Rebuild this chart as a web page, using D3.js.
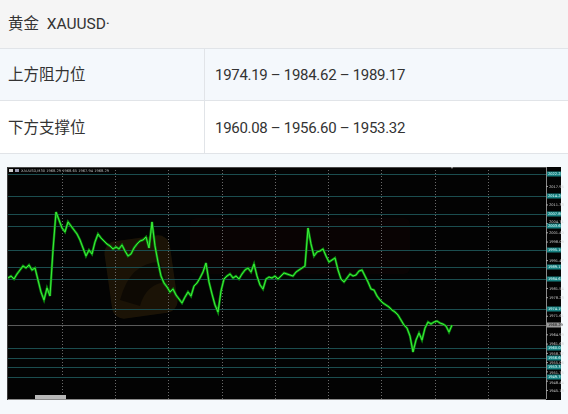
<!DOCTYPE html>
<html>
<head>
<meta charset="utf-8">
<script src="https://cdn.jsdelivr.net/npm/d3@7"></script>
<style>
  html, body { margin: 0; padding: 0; background: #ffffff; }
  svg { display: block; }
</style>
</head>
<body>
<svg id="chart" width="568" height="414"></svg>
<script>
// ---------------- DATA ----------------
const headerText = "黄金  XAUUSD·";
const rowLabels = ["上方阻力位", "下方支撑位"];
const rowValues = ["1974.19 – 1984.62 – 1989.17", "1960.08 – 1956.60 – 1953.32"];

// XAUUSD close prices, one per bar
const closePrices = [
  1985.08, 1985.79, 1984.72, 1986.51, 1987.94, 1989.37, 1988.65, 1989.72, 1987.94, 1988.65,
  1984.37, 1980.08, 1977.22, 1981.51, 1978.65, 1995.08, 2008.65, 2005.79, 2002.94, 2001.51,
  2005.08, 2003.65, 2002.22, 2000.79, 1998.65, 1995.79, 1992.94, 1995.08, 1993.65, 1997.94,
  2000.79, 1999.37, 1998.29, 1997.22, 1996.51, 1995.44, 1996.15, 1995.44, 1996.87, 1994.72,
  1992.94, 1993.65, 1995.79, 1997.22, 1998.29, 1998.65, 1999.72, 1995.79, 2005.08, 1996.51,
  1990.79, 1985.79, 1983.29, 1981.87, 1980.08, 1981.15, 1979.01, 1977.58, 1976.15, 1978.29,
  1980.08, 1978.65, 1982.22, 1983.29, 1985.08, 1987.22, 1990.44, 1983.65, 1979.37, 1975.44,
  1972.94, 1980.44, 1984.72, 1985.79, 1986.51, 1985.08, 1985.79, 1984.72, 1986.51, 1987.94,
  1988.65, 1987.22, 1990.08, 1985.79, 1982.58, 1981.15, 1984.72, 1985.44, 1985.08, 1985.79,
  1984.72, 1985.79, 1986.87, 1986.51, 1986.15, 1985.79, 1987.22, 1987.94, 1988.65, 1989.37,
  2002.94, 1997.22, 1992.94, 1994.37, 1994.72, 1995.44, 1992.94, 1990.79, 1991.51, 1992.22,
  1987.94, 1984.72, 1983.65, 1985.08, 1986.51, 1985.79, 1986.15, 1987.58, 1987.94, 1985.79,
  1983.65, 1981.15, 1980.79, 1978.65, 1977.22, 1976.15, 1975.44, 1974.72, 1973.65, 1972.94,
  1971.87, 1970.08, 1968.29, 1967.22, 1964.37, 1958.65, 1962.94, 1965.44, 1962.94, 1967.22,
  1969.37, 1968.65, 1969.37, 1969.72, 1969.01, 1968.65, 1967.94, 1965.79, 1968.29
];

// horizontal level lines (teal) drawn on the chart
const levelPrices = [2022.25, 2014.20, 2007.80, 2003.65, 1995.10, 1989.17, 1984.62, 1974.19,
                     1960.08, 1956.60, 1953.32, 1949.70];
const bidPrice = 1968.29;

// price axis tick labels
const priceTicks = [2017.95, 2011.33, 2004.71, 2001.40, 1998.09, 1991.47, 1981.54, 1978.23,
                    1971.61, 1964.99, 1961.68, 1958.37, 1955.06, 1951.75, 1948.44, 1945.13];
const priceDomain = [1941.9, 2024.7];

// vertical time grid positions (bar index)
const gridBars = [18, 35.67, 53.33, 71.33, 89, 106.67, 124.33, 142.33, 160];

const chartTitle = "XAUUSD,M30  1968.29 1968.65 1967.94 1968.29";

// ---------------- DRAW ----------------
const svg = d3.select("#chart");
const W = 568, H = 414;
const textColor = "#333333";
const fontStack = "Roboto, 'Noto Sans CJK SC', sans-serif";

// table backgrounds
svg.append("rect").attr("x", 0).attr("y", 0).attr("width", W).attr("height", 48).attr("fill", "#f5f5f5");
svg.append("rect").attr("x", 0).attr("y", 49).attr("width", W).attr("height", 51).attr("fill", "#f4f8fc");
svg.append("rect").attr("x", 0).attr("y", 101).attr("width", W).attr("height", 52).attr("fill", "#ffffff");
svg.append("rect").attr("x", 0).attr("y", 154).attr("width", W).attr("height", H - 154).attr("fill", "#f5f9fc");

// borders
[48.5, 100.5, 153.5].forEach(yy => {
  svg.append("line").attr("x1", 0).attr("x2", W).attr("y1", yy).attr("y2", yy)
    .attr("stroke", "#e1e4e8").attr("stroke-width", 1);
});
svg.append("line").attr("x1", 204.5).attr("x2", 204.5).attr("y1", 49).attr("y2", 153)
  .attr("stroke", "#e1e4e8").attr("stroke-width", 1);

// table texts
svg.append("text").attr("x", 8).attr("y", 24).attr("dominant-baseline", "central")
  .attr("font-family", fontStack).attr("font-size", 15.5).attr("fill", textColor)
  .attr("xml:space", "preserve").style("white-space", "pre").text(headerText);

const rowCenters = [75, 128];
rowLabels.forEach((lab, i) => {
  svg.append("text").attr("x", 8).attr("y", rowCenters[i]).attr("dominant-baseline", "central")
    .attr("font-family", fontStack).attr("font-size", 15.5).attr("fill", textColor).text(lab);
  svg.append("text").attr("x", 215).attr("y", rowCenters[i]).attr("dominant-baseline", "central")
    .attr("font-family", fontStack).attr("font-size", 15).attr("fill", textColor)
    .attr("letter-spacing", -0.3).text(rowValues[i]);
});

// ---- trading chart ----
const cL = 7, cR = 561, cT = 167, cB = 400, pR = 546, pB = 399;
svg.append("rect").attr("x", cL).attr("y", cT).attr("width", cR - cL).attr("height", cB - cT).attr("fill", "#030303");

const x = d3.scaleLinear().domain([0, closePrices.length - 1]).range([8, 452]);
const y = d3.scaleLinear().domain(priceDomain).range([pB, cT]);

// watermark (faint logo)
const wm = svg.append("g").attr("opacity", 0.45);
wm.append("rect").attr("x", 108).attr("y", 238).attr("width", 66).attr("height", 78).attr("rx", 12)
  .attr("fill", "#3a2a0c").attr("transform", "rotate(-8 141 277)");
wm.append("path").attr("d", "M120,300 Q130,262 160,262 L166,282 Q146,284 140,306 Z").attr("fill", "#1c1206");
wm.append("rect").attr("x", 190).attr("y", 218).attr("width", 220).attr("height", 56).attr("rx", 6)
  .attr("fill", "#1a0505").attr("opacity", 0.6);

// vertical dotted grid
svg.append("g").selectAll("line").data(gridBars).join("line")
  .attr("x1", d => Math.round(x(d)) + 0.5).attr("x2", d => Math.round(x(d)) + 0.5)
  .attr("y1", cT).attr("y2", pB)
  .attr("stroke", "#6a6a6a").attr("stroke-width", 1).attr("stroke-dasharray", "1,2");

// level lines
svg.append("g").selectAll("line").data(levelPrices).join("line")
  .attr("x1", cL).attr("x2", pR)
  .attr("y1", d => Math.round(y(d)) + 0.5).attr("y2", d => Math.round(y(d)) + 0.5)
  .attr("stroke", "#1b4d4f").attr("stroke-width", 1);

// bid line
svg.append("line").attr("x1", cL).attr("x2", pR)
  .attr("y1", Math.round(y(bidPrice)) + 0.5).attr("y2", Math.round(y(bidPrice)) + 0.5)
  .attr("stroke", "#5a5a5a").attr("stroke-width", 1);

// price line
const line = d3.line().x((d, i) => x(i)).y(d => y(d)).curve(d3.curveLinear);
svg.append("path").datum(closePrices).attr("d", line).attr("fill", "none")
  .attr("stroke", "#0c8a10").attr("stroke-width", 2.4).attr("stroke-linejoin", "miter");
svg.append("path").datum(closePrices).attr("d", line).attr("fill", "none")
  .attr("stroke", "#3cf03a").attr("stroke-width", 1).attr("stroke-linejoin", "miter");

// frame
svg.append("line").attr("x1", cL).attr("x2", pR).attr("y1", cT + 0.5).attr("y2", cT + 0.5).attr("stroke", "#4a4a4a");
svg.append("line").attr("x1", cL).attr("x2", pR).attr("y1", pB + 0.5).attr("y2", pB + 0.5).attr("stroke", "#8a8a8a");
svg.append("line").attr("x1", pR + 0.5).attr("x2", pR + 0.5).attr("y1", cT).attr("y2", pB).attr("stroke", "#8a8a8a");
svg.append("line").attr("x1", cL + 0.5).attr("x2", cL + 0.5).attr("y1", cT).attr("y2", cB).attr("stroke", "#3a3a3a");

// price axis (right)
const labelFont = 3.6;
const occupied = levelPrices.concat([bidPrice]).map(v => y(v));
function nudge(v) {
  const py = y(v);
  let off = 0;
  occupied.forEach(oy => {
    const d = py - oy;
    if (Math.abs(d) < 5) off += (d >= 0 ? 1 : -1) * (5 - Math.abs(d));
  });
  return off;
}
const axis = d3.axisRight(y).tickValues(priceTicks).tickSize(2).tickFormat(d3.format(".2f"));
const axG = svg.append("g").attr("transform", `translate(${pR},0)`).call(axis);
axG.select(".domain").remove();
axG.selectAll("line").attr("stroke", "#aaaaaa");
axG.selectAll("text").attr("fill", "#cfcfcf").attr("font-size", labelFont)
  .attr("font-family", "'DejaVu Sans', sans-serif").attr("x", 3)
  .attr("dy", d => (0.32 * labelFont + nudge(d)) + "px");

// level labels (teal boxes)
const lab = svg.append("g").selectAll("g").data(levelPrices).join("g")
  .attr("transform", d => `translate(${pR + 1},${Math.round(y(d))})`);
lab.append("rect").attr("x", 0).attr("y", -2.5).attr("width", 14).attr("height", 5).attr("fill", "#168080");
lab.append("text").attr("x", 1).attr("y", 0).attr("dominant-baseline", "central")
  .attr("font-size", labelFont).attr("font-family", "'DejaVu Sans', sans-serif").attr("fill", "#e8ffff")
  .text(d => d3.format(".2f")(d));

// bid label
const bl = svg.append("g").attr("transform", `translate(${pR + 1},${Math.round(y(bidPrice))})`);
bl.append("rect").attr("x", 0).attr("y", -2.5).attr("width", 14).attr("height", 5).attr("fill", "#9a9a9a");
bl.append("text").attr("x", 1).attr("y", 0).attr("dominant-baseline", "central")
  .attr("font-size", labelFont).attr("font-family", "'DejaVu Sans', sans-serif").attr("fill", "#111")
  .text(d3.format(".2f")(bidPrice));

// toolbar / title
svg.append("rect").attr("x", 9).attr("y", 169).attr("width", 4).attr("height", 3).attr("fill", "#d0d0d0");
svg.append("rect").attr("x", 15).attr("y", 169).attr("width", 4).attr("height", 3).attr("fill", "#9a9ab0");
svg.append("text").attr("x", 21).attr("y", 170.5).attr("dominant-baseline", "central")
  .attr("font-size", 3.6).attr("font-family", "'DejaVu Sans', sans-serif").attr("fill", "#bbbbbb")
  .text(chartTitle);

// shift marker on top
svg.append("path").attr("d", `M${x(closePrices.length - 1) - 1},${cT} l2,0 l-1,2 z`).attr("fill", "#bbbbbb");

// time label box bottom-left
svg.append("rect").attr("x", 35).attr("y", 395).attr("width", 31).attr("height", 4).attr("fill", "#b8b8b8");
</script>
</body>
</html>
